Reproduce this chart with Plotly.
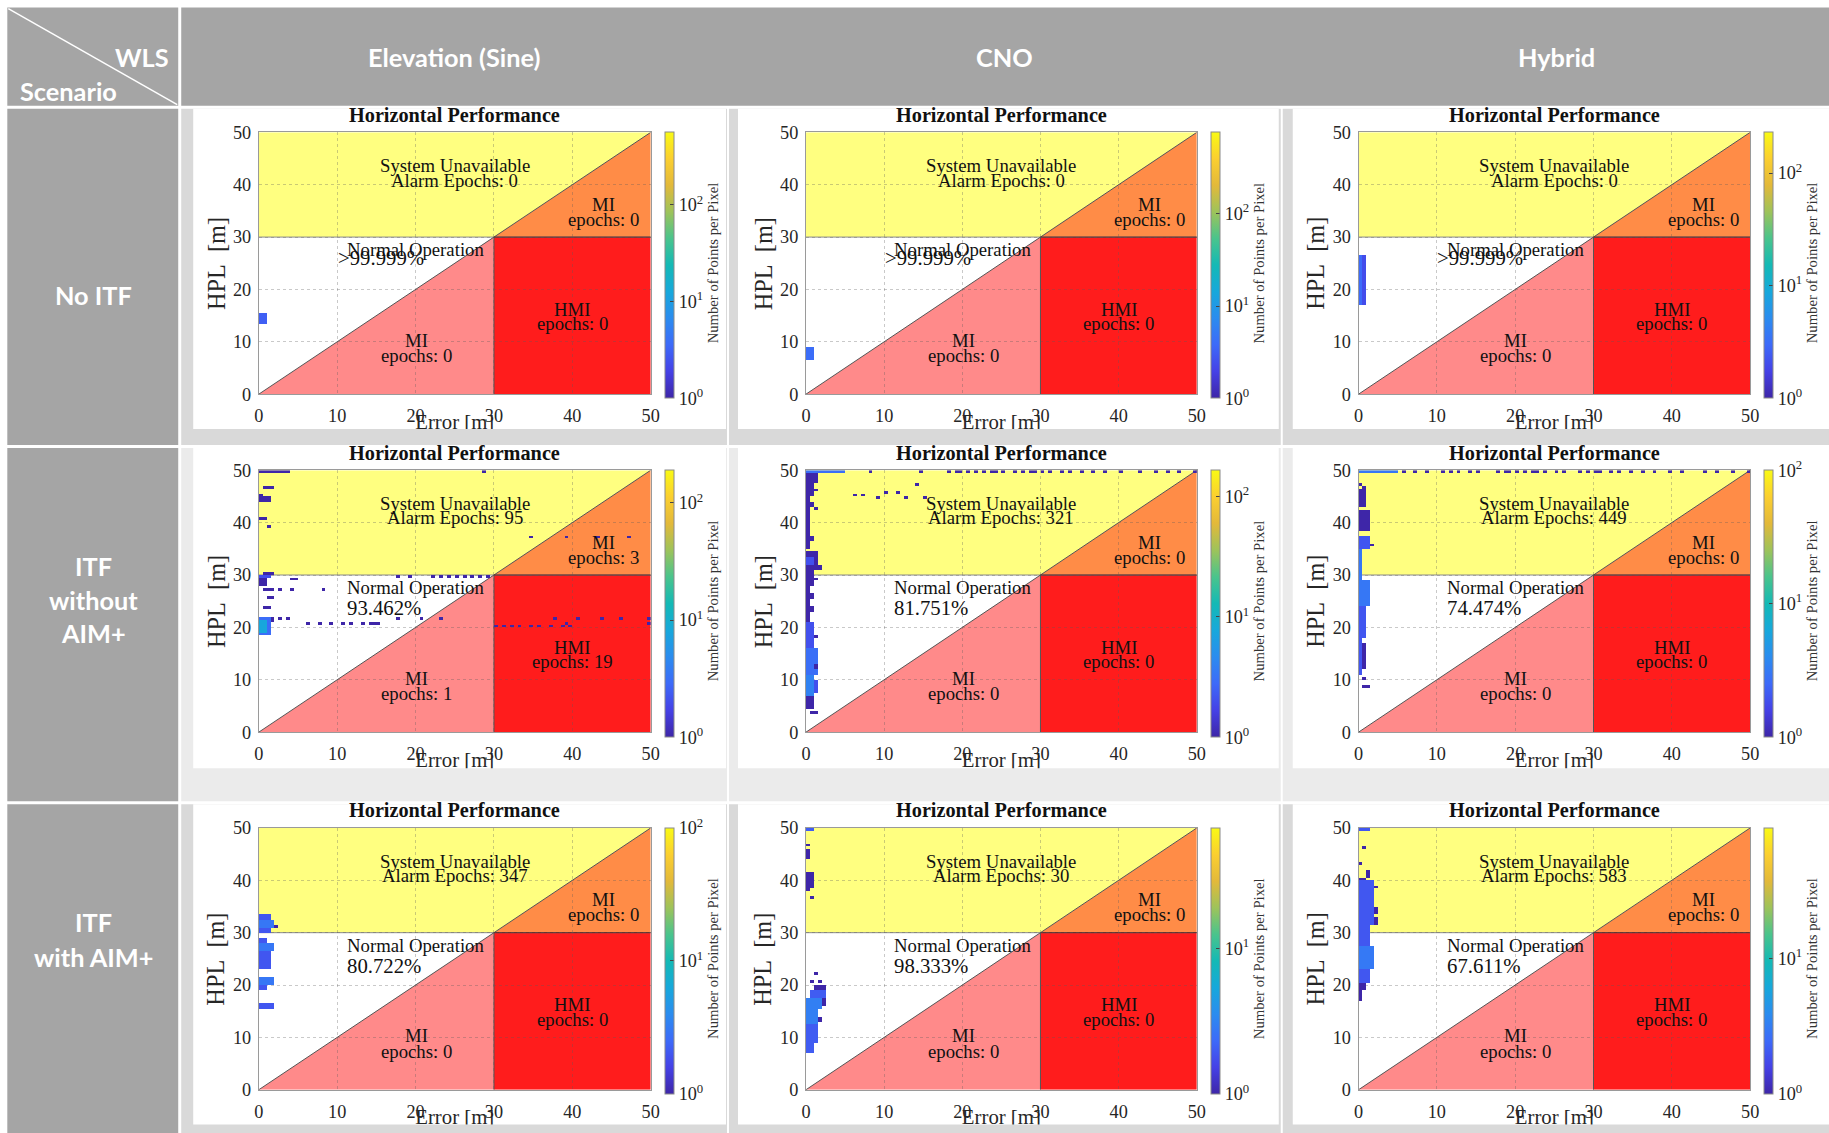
import math
import plotly.graph_objects as go

# target picture size (reference) and the observed capture mapping of the viewer
W, H = 1829, 1133
SX, OX = 0.9928, 4.7      # horizontal: picture = SX * page + OX
SY, OY = 0.9817, 9.45     # vertical:   picture = SY * page + OY
FW = int(math.ceil((W - OX) / SX))
FH = int(math.ceil((H - OY) / SY))
FS = 1 / math.sqrt(SX * SY)

# ---------------------------------------------------------------- data
WEIGHTINGS = ["Elevation (Sine)", "CNO", "Hybrid"]
SCENARIOS = [["No ITF"], ["ITF", "without", "AIM+"], ["ITF", "with AIM+"]]
CORNER_TOP = "WLS"
CORNER_BOTTOM = "Scenario"
PANEL_TITLE = "Horizontal Performance"
X_LABEL = "Error [m]"
Y_LABEL = "HPL\u00a0 [m]"
CB_LABEL = "Number of Points per Pixel"
AXIS_TICKS = [0, 10, 20, 30, 40, 50]
ALERT_LIMIT = 30
AXIS_MAX = 50
PIXEL = 0.5

ALARM_EPOCHS = [[0, 0, 0], [95, 321, 449], [347, 30, 583]]
MI_UPPER_EPOCHS = [[0, 0, 0], [3, 0, 0], [0, 0, 0]]
MI_LOWER_EPOCHS = [[0, 0, 0], [1, 0, 0], [0, 0, 0]]
HMI_EPOCHS = [[0, 0, 0], [19, 0, 0], [0, 0, 0]]
NORMAL_PCT = [[">99.999%", ">99.999%", ">99.999%"],
              ["93.462%", "81.751%", "74.474%"],
              ["80.722%", "98.333%", "67.611%"]]
MAX_COUNT = [[560, 760, 230], [190, 165, 100], [100, 67, 92]]

# histogram pixels: (error from, error to, HPL from, HPL to, points per pixel)
HIST_NOITF_ELEV = [(0, 1, 13.5, 15.5, 3)]
HIST_NOITF_CNO = [(0, 1, 6.5, 9, 4)]
HIST_NOITF_HYB = [(0, 0.5, 17, 26.5, 3), (0.5, 1, 17, 26.5, 2)]

# single-pixel epochs: error values read along one HPL row
ITF_ELEV_ROW_29_5 = [17.5, 19, 22, 23, 24, 25, 26, 27, 28, 29]
ITF_ELEV_ROW_20_5 = [6, 7.5, 9, 10.5, 11.5, 13, 14, 14.5, 15, 39, 49.5]
ITF_ELEV_ROW_20 = [30, 31, 32, 33, 34.5, 35.5, 37, 38.5, 39.5]
ITF_ELEV_ROW_21_5 = [2.5, 3.5, 17.5, 20.5, 23, 37.5, 40.5, 43.5, 46, 49.5]
ITF_ELEV_ROW_37 = [34.5, 39, 43, 47]
ITF_ELEV_ROW_27 = [2.5, 4, 8]
HIST_ITF_ELEV = [
    (0, 4, 49.5, 50, 1), (28.5, 29, 49.5, 50, 1),
    (0.5, 2, 46.5, 47, 1), (0, 0.5, 45, 45.5, 1), (0, 1.5, 44, 45, 1),
    (0, 1, 40.5, 41, 1), (1, 1.5, 39, 39.5, 1),
    (0.5, 2, 30, 30.5, 1), (0, 1.5, 29.5, 30, 2), (4, 5, 29, 29.5, 1),
    (0, 1, 28, 29.5, 1), (0.5, 2, 27, 27.5, 1), (1, 2, 25.5, 26, 1),
    (0.5, 1.5, 23.5, 24, 1),
    (0, 1.5, 18.5, 22, 3), (0, 1, 19, 21.5, 8), (1.5, 2, 21, 22, 1),
]
ITF_CNO_ROW_49_5 = [8, 14.5, 18, 19, 19.5, 20.5, 21.5, 22.5, 23.5, 24, 25, 26.5, 27.5,
                    28.5, 29, 30, 31, 32.5, 33.5, 35, 36.5, 38, 40, 42.5, 44.5, 46, 47.5, 49.5]
ITF_CNO_SCATTER = [(6, 45), (7, 45), (9, 44.5), (10, 45.5), (11.5, 45.5), (12.5, 44.5),
                   (14, 47), (15, 44.5)]
HIST_ITF_CNO = [
    (0, 5, 49.5, 50, 3),
    (0, 1.5, 47.5, 49.5, 1), (0, 1, 45, 47.5, 1), (1, 1.5, 46, 46.5, 1),
    (0, 0.5, 42, 45, 1), (0.5, 1, 43, 44, 1), (1, 1.5, 42.5, 43, 1),
    (0, 0.5, 35, 42, 1), (0.5, 1, 36.5, 37.5, 1),
    (0, 1.5, 31, 34.5, 1), (1.5, 2, 31, 32, 1), (0, 1, 32, 33.5, 2),
    (0, 1, 28, 31, 1), (1, 1.5, 29, 29.5, 1),
    (0, 0.5, 21, 28, 1), (0.5, 1, 23, 24, 1), (0.5, 1, 25.5, 26.5, 1),
    (0, 1, 16, 21, 2), (1, 1.5, 18, 18.5, 1),
    (0, 1.5, 11, 16, 3), (1, 1.5, 12, 13, 1),
    (0, 1, 7, 11, 4), (1, 1.5, 7.5, 10, 2),
    (0, 1, 4.5, 7, 1), (0.5, 1.5, 3.5, 4, 1),
]
ITF_HYB_ROW_49_5 = [5.5, 7, 8.5, 10.5, 11.5, 12.5, 14, 15, 17.5, 18.5, 19, 20, 21, 22, 22.5,
                    23.5, 25, 26, 28, 29, 30, 30.5, 32, 33, 34.5, 36, 37.5, 39.5, 41, 44,
                    45.5, 47.5, 49.5]
HIST_ITF_HYB = [
    (0, 5, 49.5, 50, 3),
    (0, 0.5, 47, 47.5, 1), (0.5, 1, 46.5, 47, 1),
    (0, 1, 43, 46.5, 1),
    (0, 1.5, 38.5, 42.5, 1), (1, 1.5, 39, 39.5, 1),
    (0, 1.5, 35, 37.5, 2), (1.5, 2, 35.5, 36, 1),
    (0, 0.5, 29, 35, 3),
    (0, 1.5, 24, 29, 3),
    (0, 1, 18, 24, 2),
    (0, 0.5, 11, 18, 2), (0.5, 1, 12, 17, 1),
    (0.5, 1, 10, 10.5, 1), (0.5, 1.5, 8.5, 9, 1),
]
HIST_AIM_ELEV = [
    (0, 1.5, 32.5, 33.5, 2), (0, 2, 31, 32.5, 3), (2, 2.5, 31, 31.5, 1),
    (0, 1.5, 30, 31, 2),
    (0, 1, 28, 29, 2), (0, 2, 26.5, 28, 3), (0, 1.5, 24, 26.5, 2), (0, 1.5, 23, 24, 2),
    (0, 2, 20, 21.5, 3), (0, 1, 19, 20, 2),
    (0, 2, 15.5, 16.5, 2),
]
HIST_AIM_CNO = [
    (0, 1, 49.5, 50, 2), (0, 0.5, 46.5, 47, 1), (0, 0.5, 44, 46, 1),
    (0, 1, 39.5, 41.5, 1), (0, 0.5, 38, 39.5, 1), (0.5, 1, 38.5, 40, 1),
    (0.5, 1, 36.5, 37, 1),
    (1, 1.5, 22, 22.5, 1), (0.5, 1, 20.5, 21, 1), (1.5, 2, 20.5, 21, 1),
    (1, 2.5, 19, 20, 1), (0.5, 2.5, 17.5, 19, 2), (2, 2.5, 16, 17.5, 1),
    (0, 2, 15.5, 17.5, 3), (0, 1.5, 12.5, 15.5, 3), (1.5, 2, 13, 14, 1),
    (0, 1.5, 9, 12.5, 2), (0, 1, 7, 9, 2),
]
HIST_AIM_HYB = [
    (0, 1.5, 49.5, 50, 2), (0.5, 1, 46, 46.5, 1), (0, 0.5, 43, 43.5, 1),
    (1, 1.5, 40.5, 42, 1), (0, 1, 40, 40.5, 1),
    (0, 2, 38, 40, 2), (2, 2.5, 38.5, 39, 1),
    (0, 2, 31.5, 38, 2), (2, 2.5, 33.5, 35, 1), (2, 2.5, 31.5, 33, 1),
    (0, 1.5, 27.5, 31.5, 2), (0, 2, 23, 27.5, 3), (0, 1.5, 20.5, 23, 2),
    (0, 1, 19, 20.5, 1), (0, 0.5, 17, 19, 1),
]


def row_pixels(errors, hpl_lo, count=1):
    return [(e, e + PIXEL, hpl_lo, hpl_lo + PIXEL, count) for e in errors]


HIST_ITF_ELEV = (HIST_ITF_ELEV + row_pixels(ITF_ELEV_ROW_29_5, 29.5) + row_pixels(ITF_ELEV_ROW_20_5, 20.5)
                 + row_pixels(ITF_ELEV_ROW_20, 20) + row_pixels(ITF_ELEV_ROW_21_5, 21.5)
                 + row_pixels(ITF_ELEV_ROW_37, 37) + row_pixels(ITF_ELEV_ROW_27, 27))
HIST_ITF_CNO = (HIST_ITF_CNO + row_pixels(ITF_CNO_ROW_49_5, 49.5)
                + [(e, e + PIXEL, h, h + PIXEL, 1) for e, h in ITF_CNO_SCATTER])
HIST_ITF_HYB = HIST_ITF_HYB + row_pixels(ITF_HYB_ROW_49_5, 49.5)

HIST = [[HIST_NOITF_ELEV, HIST_NOITF_CNO, HIST_NOITF_HYB],
        [HIST_ITF_ELEV, HIST_ITF_CNO, HIST_ITF_HYB],
        [HIST_AIM_ELEV, HIST_AIM_CNO, HIST_AIM_HYB]]

# ---------------------------------------------------------------- style / layout
SERIF = "Liberation Serif"
SANS = "Lato"
HEAD_GREY = "#A5A5A5"
ROW_PAD = ["#D9D9D9", "#EBEBEB", "#D9D9D9"]
C_YELLOW, C_ORANGE, C_PINK, C_RED = "#FFFF80", "#FF8C47", "#FF8A8A", "#FF1C1C"
PARULA = [[0.0, "#3E26A8"], [0.1, "#4541E6"], [0.2, "#3D6AF9"], [0.3, "#2B8CEF"],
          [0.4, "#17A8DB"], [0.5, "#14B9B5"], [0.6, "#4AC48C"], [0.7, "#9EC35A"],
          [0.8, "#E3B93A"], [0.9, "#FBCF30"], [1.0, "#F9FA14"]]

# positions in target-picture pixels
COL_X = [(181, 727), (729, 1281), (1283, 1830)]
ROW_Y = [(108, 444), (447, 800), (803, 1134)]
IMG_X = [(193, 726), (738, 1279), (1293, 1830)]
IMG_Y = [(108, 428), (447, 767), (803, 1123)]
AX_X = [(258.6, 650.7), (806, 1197), (1358.8, 1750.6)]
AX_Y = [(131.7, 393.3), (469.3, 731), (826.7, 1088.3)]
CB_X = [664.6, 1211, 1764]


def px(x):
    return ((x - OX) / SX) / FW


def py(y):
    return 1 - ((y - OY) / SY) / FH


def fs(s):
    return round(s * FS, 2)


shapes = []
annotations = []


def rect(x0, y0, x1, y1, color):
    shapes.append(dict(type="rect", xref="paper", yref="paper", x0=px(x0), x1=px(x1),
                       y0=py(y1), y1=py(y0), fillcolor=color, line=dict(width=0), layer="below"))


def label(x, y, text, size=25, color="white", family=SANS, bold=True, angle=0):
    annotations.append(dict(x=px(x), y=py(y), xref="paper", yref="paper", showarrow=False,
                            text=f"<b>{text}</b>" if bold else text, textangle=angle,
                            font=dict(family=family, size=fs(size), color=color),
                            xanchor="center", yanchor="middle"))


# table background
rect(7, 7, 178, 105, HEAD_GREY)
rect(181, 7, 1830, 105, HEAD_GREY)
shapes.append(dict(type="line", xref="paper", yref="paper", x0=px(8), y0=py(8), x1=px(177), y1=py(104),
                   line=dict(color="white", width=1.5), layer="below"))
for r in range(3):
    rect(7, ROW_Y[r][0], 178, ROW_Y[r][1], HEAD_GREY)
    for c in range(3):
        rect(COL_X[c][0], ROW_Y[r][0], COL_X[c][1], ROW_Y[r][1], ROW_PAD[r])
        rect(IMG_X[c][0], IMG_Y[r][0], IMG_X[c][1], IMG_Y[r][1], "white")

label(142, 56, CORNER_TOP)
label(68, 90, CORNER_BOTTOM)
for c, name in enumerate(WEIGHTINGS):
    label((COL_X[c][0] + COL_X[c][1]) / 2, 56, name)
SCEN_LINE_Y = [[294], [565, 598.5, 632], [921, 956]]
for r, lines in enumerate(SCENARIOS):
    for ln, yy in zip(lines, SCEN_LINE_Y[r]):
        label(93, yy, ln)

fig = go.Figure()
AL, M = ALERT_LIMIT, AXIS_MAX
nbin = int(round(M / PIXEL))

for r in range(3):
    for c in range(3):
        k = r * 3 + c + 1
        xa, ya = f"x{k}", f"y{k}"
        xkey = "xaxis" if k == 1 else f"xaxis{k}"
        ykey = "yaxis" if k == 1 else f"yaxis{k}"
        axis_common = dict(range=[0, M], tickvals=AXIS_TICKS, showgrid=True,
                           gridcolor="rgba(90,90,90,0.33)", griddash="dot", gridwidth=1,
                           showline=True, mirror=True, linecolor="#9A9A9A", linewidth=1,
                           zeroline=False, ticks="", fixedrange=True,
                           tickfont=dict(family=SERIF, size=fs(18), color="#262626"))
        fig.layout[xkey] = dict(axis_common, domain=[px(AX_X[c][0]), px(AX_X[c][1])], anchor=ya,
                                ticklabelstandoff=5)
        fig.layout[ykey] = dict(axis_common, domain=[py(AX_Y[r][1]), py(AX_Y[r][0])], anchor=xa,
                                ticklabelstandoff=3)

        # integrity regions
        def region(path, color):
            shapes.append(dict(type="path", xref=xa, yref=ya, path=path, fillcolor=color,
                               line=dict(width=0), layer="below"))
        region(f"M 0,{AL} L 0,{M} L {M},{M} L {AL},{AL} Z", C_YELLOW)
        region(f"M {AL},{AL} L {M},{M} L {M},{AL} Z", C_ORANGE)
        region(f"M 0,0 L {AL},0 L {AL},{AL} Z", C_PINK)
        region(f"M {AL},0 L {M},0 L {M},{AL} L {AL},{AL} Z", C_RED)
        for (x0, y0, x1, y1, col) in [(0, AL, M, AL, "#8a8a8a"), (AL, 0, AL, AL, "#555555"),
                                      (0, 0, M, M, "#555555"), (AL, AL, M, AL, "#552222")]:
            shapes.append(dict(type="line", xref=xa, yref=ya, x0=x0, y0=y0, x1=x1, y1=y1,
                               line=dict(color=col, width=1), layer="below"))

        # 2-D histogram
        z = [[None] * nbin for _ in range(nbin)]
        for (e0, e1, h0, h1, cnt) in HIST[r][c]:
            for iy in range(int(round(h0 / PIXEL)), int(round(h1 / PIXEL))):
                for ix in range(int(round(e0 / PIXEL)), int(round(e1 / PIXEL))):
                    z[iy][ix] = math.log10(cnt)
        zmax = math.log10(MAX_COUNT[r][c])
        major = [d for d in range(0, 4) if d <= zmax + 1e-9]
        fig.add_trace(go.Heatmap(
            z=z, x0=PIXEL / 2, dx=PIXEL, y0=PIXEL / 2, dy=PIXEL, xaxis=xa, yaxis=ya,
            zmin=0, zmax=zmax, colorscale=PARULA, hoverinfo="skip",
            colorbar=dict(x=px(CB_X[c]), xanchor="left", xpad=0, y=py(AX_Y[r][0]), yanchor="top",
                          ypad=0, len=(AX_Y[r][1] - AX_Y[r][0]) / SY, lenmode="pixels",
                          thickness=9 / SX, thicknessmode="pixels", outlinewidth=1, outlinecolor="#8a8a8a",
                          tickvals=major,
                          ticktext=[f"10<sup>{d}</sup>" for d in major],
                          ticks="inside", ticklen=4, tickcolor="#444",
                          tickfont=dict(family=SERIF, size=fs(18), color="#262626"))))

        # region texts
        def txt(x, y, s, size=18.5, xanchor="center"):
            annotations.append(dict(x=x, y=y, xref=xa, yref=ya, text=s, showarrow=False,
                                    font=dict(family=SERIF, size=fs(size), color="#111111"),
                                    xanchor=xanchor, yanchor="middle"))
        txt(25, 43.6, "System Unavailable")
        txt(25, 40.9, f"Alarm Epochs: {ALARM_EPOCHS[r][c]}")
        txt(44, 36.3, "MI")
        txt(44, 33.4, f"epochs: {MI_UPPER_EPOCHS[r][c]}")
        txt(11.0, 27.6, "Normal Operation", xanchor="left")
        if r == 0:
            txt(9.8, 26.1, NORMAL_PCT[r][c], size=20.5, xanchor="left")
        else:
            txt(11.0, 23.8, NORMAL_PCT[r][c], size=20.5, xanchor="left")
        txt(20.1, 10.3, "MI")
        txt(20.1, 7.3, f"epochs: {MI_LOWER_EPOCHS[r][c]}")
        txt(40, 16.2, "HMI")
        txt(40, 13.5, f"epochs: {HMI_EPOCHS[r][c]}")

        # x label: drawn in a strip ending at the figure-image edge, so it is cut there
        k2 = k + 9
        strip_top, strip_bot = AX_Y[r][1], IMG_Y[r][1]
        fig.layout[f"xaxis{k2}"] = dict(domain=[px(AX_X[c][0]), px(AX_X[c][1])], range=[0, 1],
                                        visible=False, fixedrange=True, anchor=f"y{k2}")
        fig.layout[f"yaxis{k2}"] = dict(domain=[py(strip_bot), py(strip_top)], range=[0, 1],
                                        visible=False, fixedrange=True, anchor=f"x{k2}")
        fig.add_trace(go.Scatter(
            x=[0.5], y=[(strip_bot - (strip_top + 29.5)) / (strip_bot - strip_top)],
            xaxis=f"x{k2}", yaxis=f"y{k2}", mode="text", text=[X_LABEL], cliponaxis=True,
            textposition="middle center", hoverinfo="skip", showlegend=False,
            textfont=dict(family=SERIF, size=fs(20.5), color="#262626")))

        # titles and other labels
        cx = (AX_X[c][0] + AX_X[c][1]) / 2
        cy = (AX_Y[r][0] + AX_Y[r][1]) / 2
        label(cx, AX_Y[r][0] - 17.5, PANEL_TITLE, size=20, color="#111111", family=SERIF)
        label(AX_X[c][0] - 43, cy, Y_LABEL, size=24, color="#262626", family=SERIF, bold=False, angle=-90)
        label(CB_X[c] + 48.5, cy, CB_LABEL, size=14.5, color="#333333", family=SERIF, bold=False, angle=-90)

fig.update_layout(width=FW, height=FH, margin=dict(l=0, r=0, t=0, b=0),
                  paper_bgcolor="white", plot_bgcolor="rgba(0,0,0,0)", showlegend=False,
                  shapes=shapes, annotations=annotations)
PAGE_FIX = ("var s=document.createElement('style');"
            "s.innerHTML='html,body{margin:0!important;padding:0!important;overflow:hidden!important;}';"
            "document.head.appendChild(s);")
fig.write_html("out.html", config={"displayModeBar": False}, post_script=PAGE_FIX)
